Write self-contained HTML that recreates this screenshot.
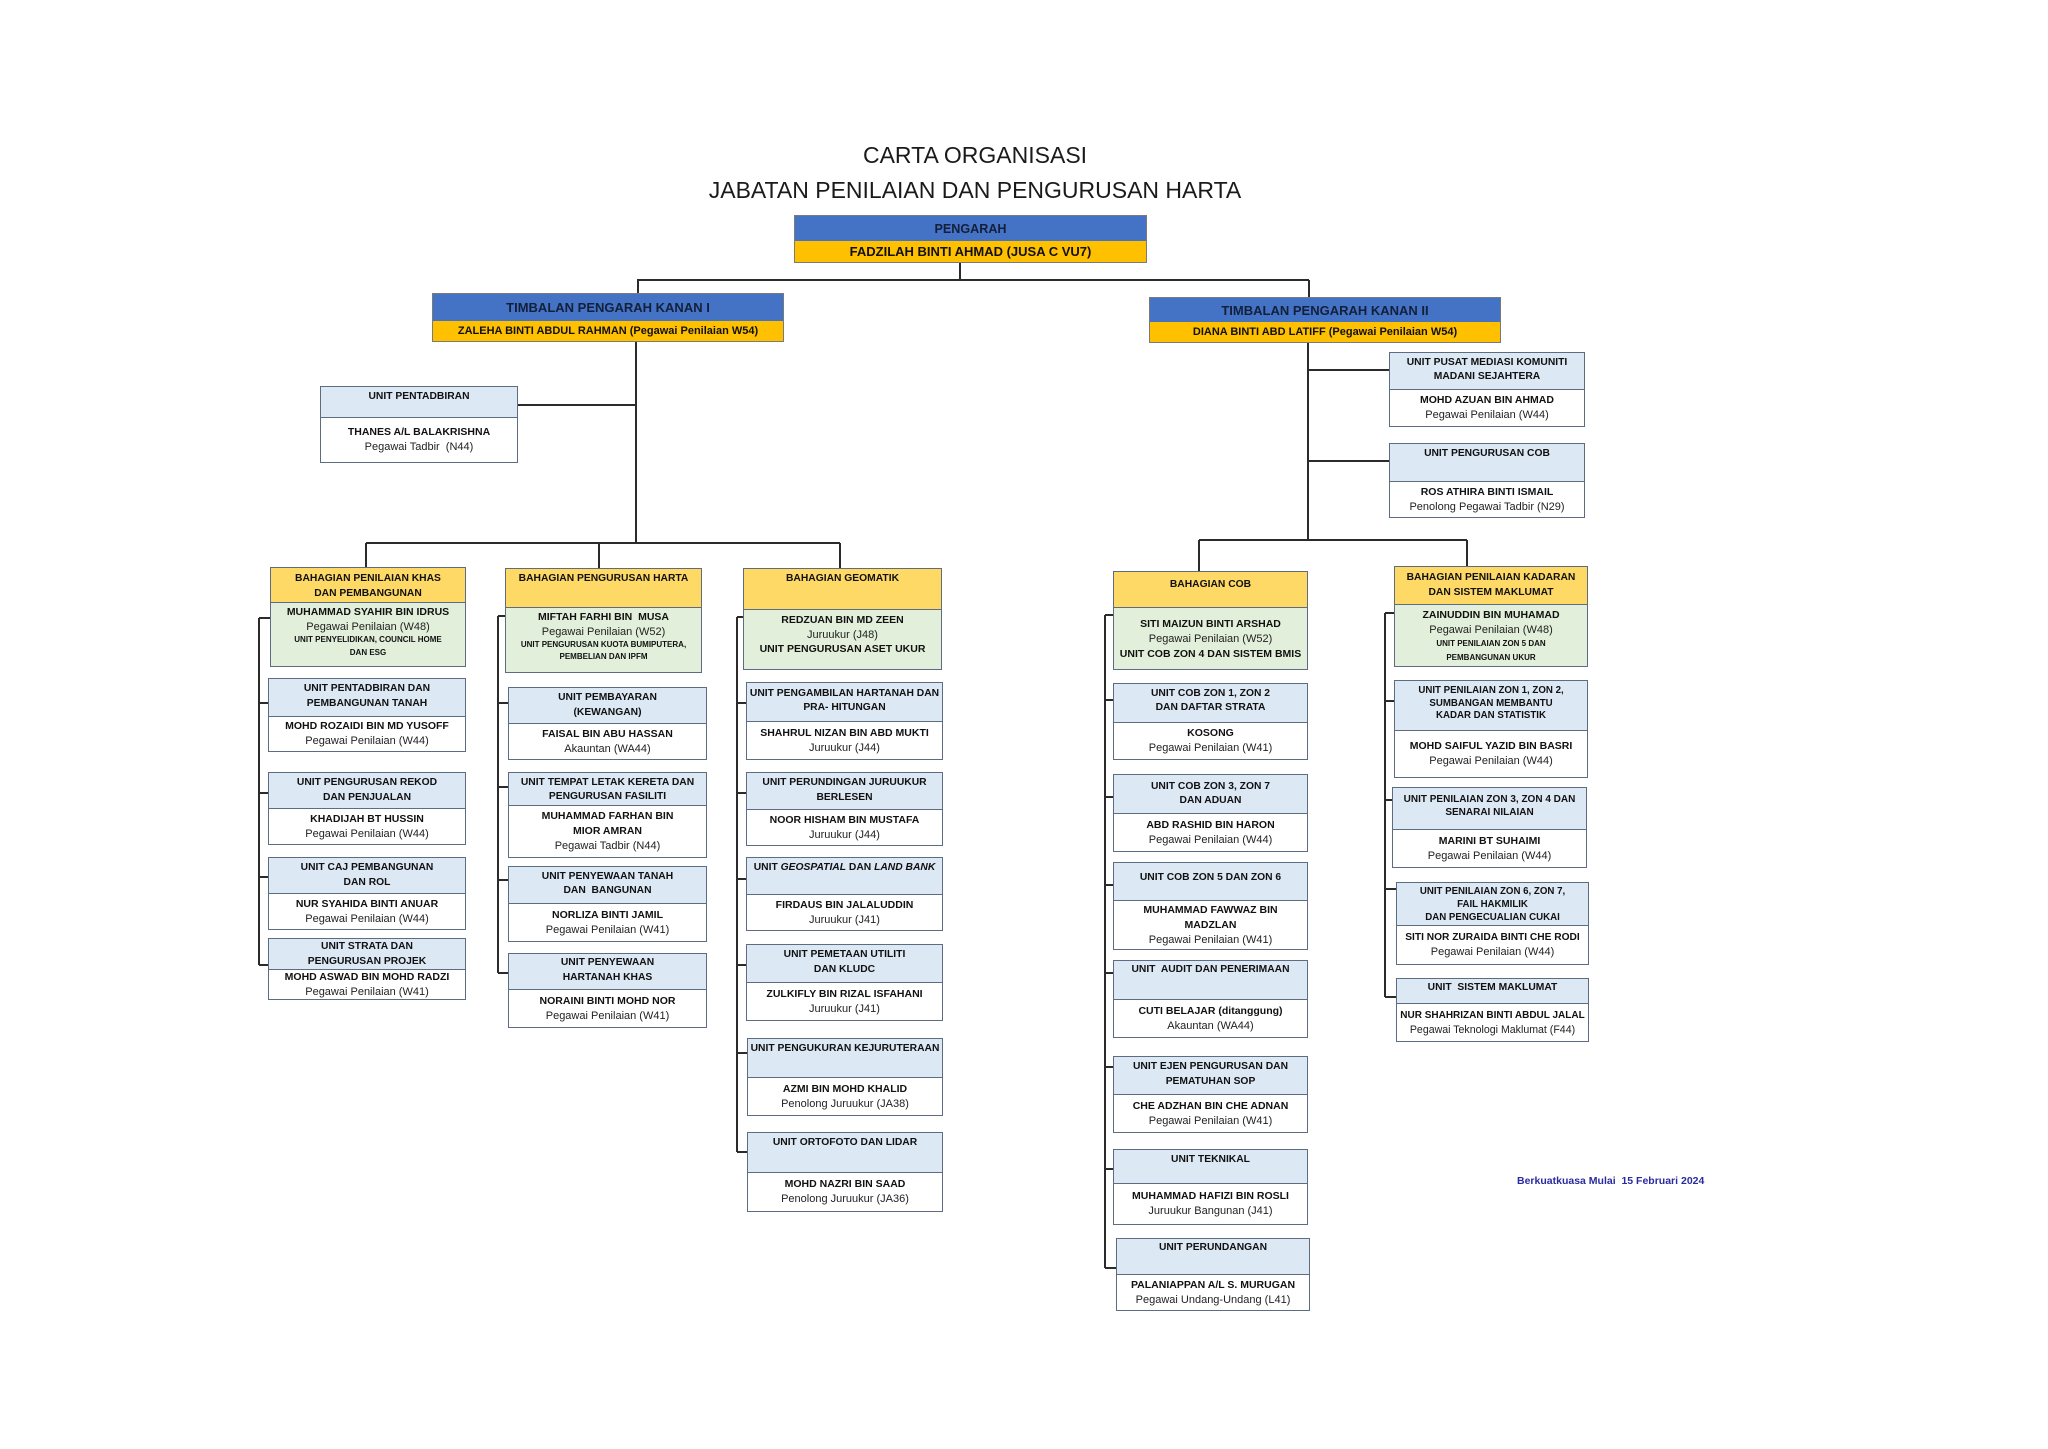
<!DOCTYPE html>
<html><head><meta charset="utf-8"><style>
html,body{margin:0;padding:0;background:#fff}
body{width:2048px;height:1449px;position:relative;overflow:hidden;font-family:"Liberation Sans",Arial,sans-serif;color:#111}
.t{position:absolute;left:575px;width:800px;text-align:center;font-size:23px;line-height:28px;color:#1a1a1a}
.bx{position:absolute;box-sizing:border-box;border:1.5px solid #5e6c82;display:flex;flex-direction:column;background:#fff}
.h{flex:none;box-sizing:border-box;background:#dde8f5;border-bottom:1.5px solid #5e6c82;padding-top:2px;text-align:center;font-weight:bold;font-size:10.3px;line-height:14.5px;white-space:nowrap;color:#111}
.g{background:#ffd966}
.b{flex:1;display:flex;flex-direction:column;align-items:center;justify-content:center;white-space:nowrap;color:#111}
.gr{background:#e2efda;justify-content:flex-start;padding-top:2px}
.n{font-weight:bold;font-size:10.5px;line-height:15px}
.r{font-size:11px;line-height:15px;color:#222}
.s{font-weight:bold;font-size:8px;line-height:12.5px}
.top{position:absolute;box-sizing:border-box;border:1px solid #7a7a7a;display:flex;flex-direction:column}
.tb{background:#4472c4;display:flex;align-items:center;justify-content:center;font-weight:bold;font-size:13px;color:#14203a;flex:none;white-space:nowrap}
.ty{background:#ffc000;display:flex;align-items:center;justify-content:center;font-weight:bold;font-size:11px;color:#111;flex:1;white-space:nowrap}
svg{position:absolute;left:0;top:0}
</style></head><body>

<div class="t" style="top:141px">CARTA ORGANISASI</div>
<div class="t" style="top:176px">JABATAN PENILAIAN DAN PENGURUSAN HARTA</div>

<svg width="2048" height="1449" viewBox="0 0 2048 1449">
<g stroke="#2b2b2b" stroke-width="2" fill="none">
<path d="M960 263V280M637 280H1309M638 280V293M1309 280V297"/>
<path d="M636 342V543M518 405H636M366 543H840M366 543V567M599 543V568M840 543V568"/>
<path d="M1308 343V540M1308 370H1389M1308 461H1389M1199 540H1467M1199 540V571M1467 540V566"/>
<path d="M259 618V965M259 618H270M259 703H268M259 793H268M259 877H268M259 965H268"/>
<path d="M498 616V973M498 616H505M498 703H508M498 787H508M498 880H508M498 973H508"/>
<path d="M737 617V1152M737 617H743M737 703H746M737 793H746M737 879H746M737 965H746M737 1053H747M737 1152H747"/>
<path d="M1105 615V1268M1105 615H1113M1105 700H1113M1105 797H1113M1105 885H1113M1105 973H1113M1105 1067H1113M1105 1169H1113M1105 1268H1116"/>
<path d="M1385 613V997M1385 613H1394M1385 701H1394M1385 800H1392M1385 889H1396M1385 997H1396"/>
</g></svg>

<!-- top level -->
<div class="top" style="left:794px;top:215px;width:353px;height:48px">
  <div class="tb" style="height:25px;font-size:12.6px">PENGARAH</div>
  <div class="ty" style="font-size:13px">FADZILAH BINTI AHMAD (JUSA C VU7)</div>
</div>
<div class="top" style="left:432px;top:293px;width:352px;height:49px">
  <div class="tb" style="height:27px">TIMBALAN PENGARAH KANAN I</div>
  <div class="ty">ZALEHA BINTI ABDUL RAHMAN (Pegawai Penilaian W54)</div>
</div>
<div class="top" style="left:1149px;top:297px;width:352px;height:46px">
  <div class="tb" style="height:24px">TIMBALAN PENGARAH KANAN II</div>
  <div class="ty">DIANA BINTI ABD LATIFF (Pegawai Penilaian W54)</div>
</div>

<!-- side units -->
<div class="bx" style="left:320px;top:386px;width:198px;height:77px">
  <div class="h" style="height:31px;padding-top:3px">UNIT PENTADBIRAN</div>
  <div class="b"><div class="n">THANES A/L BALAKRISHNA</div><div class="r">Pegawai Tadbir&nbsp; (N44)</div></div>
</div>
<div class="bx" style="left:1389px;top:352px;width:196px;height:75px">
  <div class="h" style="height:37px;padding-top:3px;line-height:14px">UNIT PUSAT MEDIASI KOMUNITI<br>MADANI SEJAHTERA</div>
  <div class="b"><div class="n">MOHD AZUAN BIN AHMAD</div><div class="r">Pegawai Penilaian (W44)</div></div>
</div>
<div class="bx" style="left:1389px;top:443px;width:196px;height:75px">
  <div class="h" style="height:38px;padding-top:3px">UNIT PENGURUSAN COB</div>
  <div class="b"><div class="n">ROS ATHIRA BINTI ISMAIL</div><div class="r">Penolong Pegawai Tadbir (N29)</div></div>
</div>

<!-- column 1 -->
<div class="bx" style="left:270px;top:567px;width:196px;height:100px">
  <div class="h g" style="height:35px;padding-top:3px;line-height:15px">BAHAGIAN PENILAIAN KHAS<br>DAN PEMBANGUNAN</div>
  <div class="b gr"><div class="n">MUHAMMAD SYAHIR BIN IDRUS</div><div class="r" style="line-height:14px">Pegawai Penilaian (W48)</div><div class="s">UNIT PENYELIDIKAN, COUNCIL HOME</div><div class="s">DAN ESG</div></div>
</div>
<div class="bx" style="left:268px;top:678px;width:198px;height:74px">
  <div class="h" style="height:38px;padding-top:3px">UNIT PENTADBIRAN DAN<br>PEMBANGUNAN TANAH</div>
  <div class="b"><div class="n">MOHD ROZAIDI BIN MD YUSOFF</div><div class="r">Pegawai Penilaian (W44)</div></div>
</div>
<div class="bx" style="left:268px;top:772px;width:198px;height:73px">
  <div class="h" style="height:36px;line-height:15px">UNIT PENGURUSAN REKOD<br>DAN PENJUALAN</div>
  <div class="b"><div class="n">KHADIJAH BT HUSSIN</div><div class="r">Pegawai Penilaian (W44)</div></div>
</div>
<div class="bx" style="left:268px;top:857px;width:198px;height:73px">
  <div class="h" style="height:36px;line-height:15px">UNIT CAJ PEMBANGUNAN<br>DAN ROL</div>
  <div class="b"><div class="n">NUR SYAHIDA BINTI ANUAR</div><div class="r">Pegawai Penilaian (W44)</div></div>
</div>
<div class="bx" style="left:268px;top:938px;width:198px;height:62px">
  <div class="h" style="height:31px;padding-top:1px;line-height:14.5px">UNIT STRATA DAN<br>PENGURUSAN PROJEK</div>
  <div class="b"><div class="n">MOHD ASWAD BIN MOHD RADZI</div><div class="r">Pegawai Penilaian (W41)</div></div>
</div>

<!-- column 2 -->
<div class="bx" style="left:505px;top:568px;width:197px;height:105px">
  <div class="h g" style="height:39px;padding-top:3px">BAHAGIAN PENGURUSAN HARTA</div>
  <div class="b gr"><div class="n">MIFTAH FARHI BIN&nbsp; MUSA</div><div class="r" style="line-height:14px">Pegawai Penilaian (W52)</div><div class="s" style="line-height:12px">UNIT PENGURUSAN KUOTA BUMIPUTERA,</div><div class="s" style="line-height:12px">PEMBELIAN DAN IPFM</div></div>
</div>
<div class="bx" style="left:508px;top:687px;width:199px;height:73px">
  <div class="h" style="height:36px;line-height:15px">UNIT PEMBAYARAN<br>(KEWANGAN)</div>
  <div class="b"><div class="n">FAISAL BIN ABU HASSAN</div><div class="r">Akauntan (WA44)</div></div>
</div>
<div class="bx" style="left:508px;top:772px;width:199px;height:86px">
  <div class="h" style="height:33px;padding-top:3px;line-height:14px">UNIT TEMPAT LETAK KERETA DAN<br>PENGURUSAN FASILITI</div>
  <div class="b"><div class="n">MUHAMMAD FARHAN BIN</div><div class="n">MIOR AMRAN</div><div class="r">Pegawai Tadbir (N44)</div></div>
</div>
<div class="bx" style="left:508px;top:866px;width:199px;height:76px">
  <div class="h" style="height:37px;padding-top:2.5px">UNIT PENYEWAAN TANAH<br>DAN&nbsp; BANGUNAN</div>
  <div class="b"><div class="n">NORLIZA BINTI JAMIL</div><div class="r">Pegawai Penilaian (W41)</div></div>
</div>
<div class="bx" style="left:508px;top:953px;width:199px;height:75px">
  <div class="h" style="height:36px">UNIT PENYEWAAN<br>HARTANAH KHAS</div>
  <div class="b"><div class="n">NORAINI BINTI MOHD NOR</div><div class="r">Pegawai Penilaian (W41)</div></div>
</div>

<!-- column 3 -->
<div class="bx" style="left:743px;top:568px;width:199px;height:102px">
  <div class="h g" style="height:41px;padding-top:3px">BAHAGIAN GEOMATIK</div>
  <div class="b gr" style="padding-top:2.5px"><div class="n">REDZUAN BIN MD ZEEN</div><div class="r" style="line-height:14px">Juruukur (J48)</div><div class="n">UNIT PENGURUSAN ASET UKUR</div></div>
</div>
<div class="bx" style="left:746px;top:682px;width:197px;height:78px">
  <div class="h" style="height:39px;padding-top:4px;line-height:13.5px">UNIT PENGAMBILAN HARTANAH DAN<br>PRA- HITUNGAN</div>
  <div class="b"><div class="n">SHAHRUL NIZAN BIN ABD MUKTI</div><div class="r">Juruukur (J44)</div></div>
</div>
<div class="bx" style="left:746px;top:772px;width:197px;height:74px">
  <div class="h" style="height:37px;padding-top:3px">UNIT PERUNDINGAN JURUUKUR<br>BERLESEN</div>
  <div class="b"><div class="n">NOOR HISHAM BIN MUSTAFA</div><div class="r">Juruukur (J44)</div></div>
</div>
<div class="bx" style="left:746px;top:857px;width:197px;height:74px">
  <div class="h" style="height:37px;padding-top:3px">UNIT <i>GEOSPATIAL</i> DAN <i>LAND BANK</i></div>
  <div class="b"><div class="n">FIRDAUS BIN JALALUDDIN</div><div class="r">Juruukur (J41)</div></div>
</div>
<div class="bx" style="left:746px;top:944px;width:197px;height:77px">
  <div class="h" style="height:38px;line-height:15px">UNIT PEMETAAN UTILITI<br>DAN KLUDC</div>
  <div class="b"><div class="n">ZULKIFLY BIN RIZAL ISFAHANI</div><div class="r">Juruukur (J41)</div></div>
</div>
<div class="bx" style="left:747px;top:1038px;width:196px;height:78px">
  <div class="h" style="height:39px;padding-top:3px">UNIT PENGUKURAN KEJURUTERAAN</div>
  <div class="b"><div class="n">AZMI BIN MOHD KHALID</div><div class="r">Penolong Juruukur (JA38)</div></div>
</div>
<div class="bx" style="left:747px;top:1132px;width:196px;height:80px">
  <div class="h" style="height:40px;padding-top:3px">UNIT ORTOFOTO DAN LIDAR</div>
  <div class="b"><div class="n">MOHD NAZRI BIN SAAD</div><div class="r">Penolong Juruukur (JA36)</div></div>
</div>

<!-- column 4 -->
<div class="bx" style="left:1113px;top:571px;width:195px;height:99px">
  <div class="h g" style="height:36px;padding-top:6px">BAHAGIAN COB</div>
  <div class="b gr" style="padding-top:9px"><div class="n">SITI MAIZUN BINTI ARSHAD</div><div class="r">Pegawai Penilaian (W52)</div><div class="n">UNIT COB ZON 4 DAN SISTEM BMIS</div></div>
</div>
<div class="bx" style="left:1113px;top:683px;width:195px;height:77px">
  <div class="h" style="height:39px;padding-top:3px;line-height:14.4px">UNIT COB ZON 1, ZON 2<br>DAN DAFTAR STRATA</div>
  <div class="b"><div class="n">KOSONG</div><div class="r">Pegawai Penilaian (W41)</div></div>
</div>
<div class="bx" style="left:1113px;top:774px;width:195px;height:78px">
  <div class="h" style="height:39px;padding-top:5px;line-height:13.5px">UNIT COB ZON 3, ZON 7<br>DAN ADUAN</div>
  <div class="b"><div class="n">ABD RASHID BIN HARON</div><div class="r">Pegawai Penilaian (W44)</div></div>
</div>
<div class="bx" style="left:1113px;top:862px;width:195px;height:88px">
  <div class="h" style="height:38px;padding-top:8px">UNIT COB ZON 5 DAN ZON 6</div>
  <div class="b"><div class="n">MUHAMMAD FAWWAZ BIN</div><div class="n">MADZLAN</div><div class="r">Pegawai Penilaian (W41)</div></div>
</div>
<div class="bx" style="left:1113px;top:960px;width:195px;height:78px">
  <div class="h" style="height:39px;padding-top:2px">UNIT&nbsp; AUDIT DAN PENERIMAAN</div>
  <div class="b"><div class="n">CUTI BELAJAR (ditanggung)</div><div class="r">Akauntan (WA44)</div></div>
</div>
<div class="bx" style="left:1113px;top:1056px;width:195px;height:77px">
  <div class="h" style="height:38px;padding-top:3px">UNIT EJEN PENGURUSAN DAN<br>PEMATUHAN SOP</div>
  <div class="b"><div class="n">CHE ADZHAN BIN CHE ADNAN</div><div class="r">Pegawai Penilaian (W41)</div></div>
</div>
<div class="bx" style="left:1113px;top:1149px;width:195px;height:76px">
  <div class="h" style="height:34px;padding-top:3px">UNIT TEKNIKAL</div>
  <div class="b"><div class="n">MUHAMMAD HAFIZI BIN ROSLI</div><div class="r">Juruukur Bangunan (J41)</div></div>
</div>
<div class="bx" style="left:1116px;top:1238px;width:194px;height:73px">
  <div class="h" style="height:36px;padding-top:1.5px">UNIT PERUNDANGAN</div>
  <div class="b"><div class="n">PALANIAPPAN A/L S. MURUGAN</div><div class="r">Pegawai Undang-Undang (L41)</div></div>
</div>

<!-- column 5 -->
<div class="bx" style="left:1394px;top:566px;width:194px;height:101px">
  <div class="h g" style="height:38px;padding-top:3px;line-height:15px">BAHAGIAN PENILAIAN KADARAN<br>DAN SISTEM MAKLUMAT</div>
  <div class="b gr" style="padding-top:3px"><div class="n">ZAINUDDIN BIN MUHAMAD</div><div class="r" style="line-height:14px">Pegawai Penilaian (W48)</div><div class="s" style="line-height:13.5px">UNIT PENILAIAN ZON 5 DAN</div><div class="s" style="line-height:13.5px">PEMBANGUNAN UKUR</div></div>
</div>
<div class="bx" style="left:1394px;top:680px;width:194px;height:98px">
  <div class="h" style="height:50px;padding-top:4px;line-height:12.5px;font-size:9.7px">UNIT PENILAIAN ZON 1, ZON 2,<br>SUMBANGAN MEMBANTU<br>KADAR DAN STATISTIK</div>
  <div class="b"><div class="n">MOHD SAIFUL YAZID BIN BASRI</div><div class="r">Pegawai Penilaian (W44)</div></div>
</div>
<div class="bx" style="left:1392px;top:787px;width:195px;height:81px">
  <div class="h" style="height:42px;padding-top:6px;line-height:12.5px;font-size:10px">UNIT PENILAIAN ZON 3, ZON 4 DAN<br>SENARAI NILAIAN</div>
  <div class="b"><div class="n">MARINI BT SUHAIMI</div><div class="r">Pegawai Penilaian (W44)</div></div>
</div>
<div class="bx" style="left:1396px;top:882px;width:193px;height:83px">
  <div class="h" style="height:43px;padding-top:1.5px;line-height:13px;font-size:9.7px">UNIT PENILAIAN ZON 6, ZON 7,<br>FAIL HAKMILIK<br>DAN PENGECUALIAN CUKAI</div>
  <div class="b"><div class="n" style="font-size:10.2px">SITI NOR ZURAIDA BINTI CHE RODI</div><div class="r">Pegawai Penilaian (W44)</div></div>
</div>
<div class="bx" style="left:1396px;top:978px;width:193px;height:64px">
  <div class="h" style="height:25px;padding-top:2px">UNIT&nbsp; SISTEM MAKLUMAT</div>
  <div class="b"><div class="n" style="font-size:10px">NUR SHAHRIZAN BINTI ABDUL JALAL</div><div class="r" style="font-size:10.6px">Pegawai Teknologi Maklumat (F44)</div></div>
</div>

<div style="position:absolute;left:1517px;top:1174px;font-weight:bold;font-size:10.5px;line-height:14px;color:#2a2aa0;white-space:nowrap">Berkuatkuasa Mulai&nbsp; 15 Februari 2024</div>

</body></html>
